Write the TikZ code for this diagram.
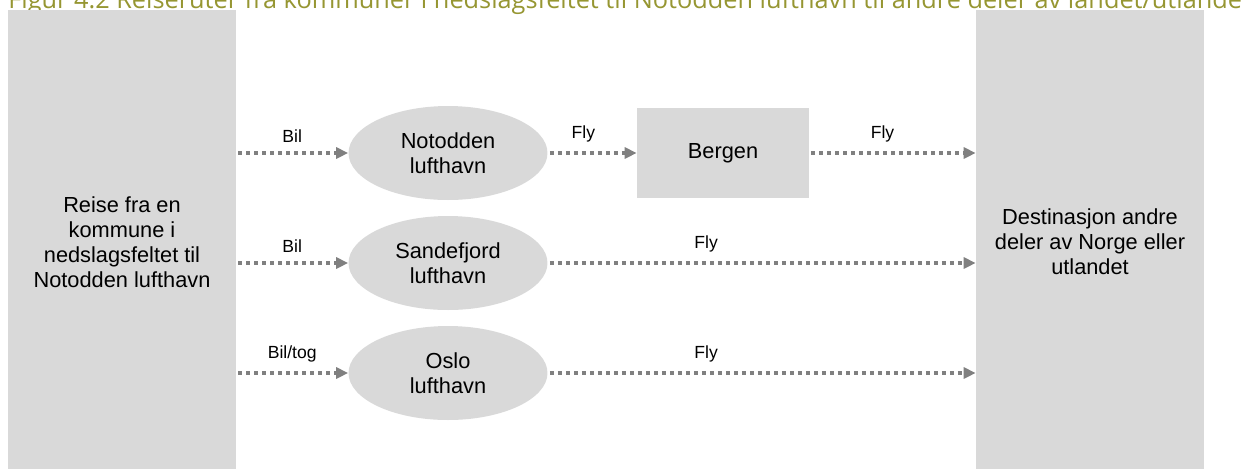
\documentclass[tikz,border=0pt]{standalone}
\usepackage{fontspec}
\setmainfont{Liberation Sans}
\newfontfamily\captionfont{Open Sans}
\usetikzlibrary{arrows.meta,shapes.geometric}

\definecolor{boxgray}{RGB}{217,217,217}
\definecolor{linegray}{RGB}{128,128,128}
\definecolor{captionolive}{RGB}{150,150,50}

\tikzset{
  figcaption/.style={anchor=base west, inner sep=0pt, text=captionolive, font=\captionfont\fontsize{14.4}{16}\selectfont},
  bigbox/.style={rectangle, fill=boxgray, minimum width=4.56cm, minimum height=9.28cm, align=center, font=\fontsize{12.4}{14.2}\selectfont},
  airport/.style={ellipse, fill=boxgray, minimum width=3.98cm, minimum height=1.88cm, inner sep=0pt, align=center, font=\fontsize{12.4}{14.2}\selectfont},
  hub/.style={rectangle, fill=boxgray, minimum width=3.44cm, minimum height=1.8cm, font=\fontsize{12.4}{14.2}\selectfont},
  route/.style={color=linegray, line width=0.07cm, dash pattern=on 0.08cm off 0.08cm, -{Triangle[length=0.24cm,width=0.22cm]}, shorten <=0.04cm},
  modelabel/.style={above=0.06cm, text=black, font=\fontsize{10}{12}\selectfont}
}

\begin{document}
\begin{tikzpicture}[x=0.02cm, y=-0.02cm]
  \useasboundingbox (0,0) rectangle (1243,468);
  \clip (0,0) rectangle (1243,468);
  \node[figcaption] (cap) at (8,8) {Figur 4.2 Reiseruter fra kommuner i nedslagsfeltet til Notodden lufthavn til andre deler av landet/utlandet};
  \node[bigbox] (src) at (122,242) {Reise fra en\\kommune i\\nedslagsfeltet til\\Notodden lufthavn};
  \node[bigbox] (dest) at (1090,242) {Destinasjon andre\\deler av Norge eller\\utlandet};
  \node[airport] (not) at (448,153) {Notodden\\lufthavn};
  \node[airport] (sand) at (448,263) {Sandefjord\\lufthavn};
  \node[airport] (osl) at (448,373) {Oslo\\lufthavn};
  \node[hub] (bgo) at (723,153) {Bergen};
  \path[route]
  (src.east |- not) edge node [modelabel] {Bil} (not)
  (not) edge node [modelabel, pos=0.4] {Fly} (bgo)
  (bgo) edge node [modelabel, pos=0.44] {Fly} (dest.west |- bgo)
  (src.east |- sand) edge node [modelabel] {Bil} (sand)
  (sand) edge node [modelabel, pos=0.37] {Fly} (dest.west |- sand)
  (src.east |- osl) edge node [modelabel] {Bil/tog} (osl)
  (osl) edge node [modelabel, pos=0.37] {Fly} (dest.west |- osl)
  ;
\end{tikzpicture}
\end{document}
